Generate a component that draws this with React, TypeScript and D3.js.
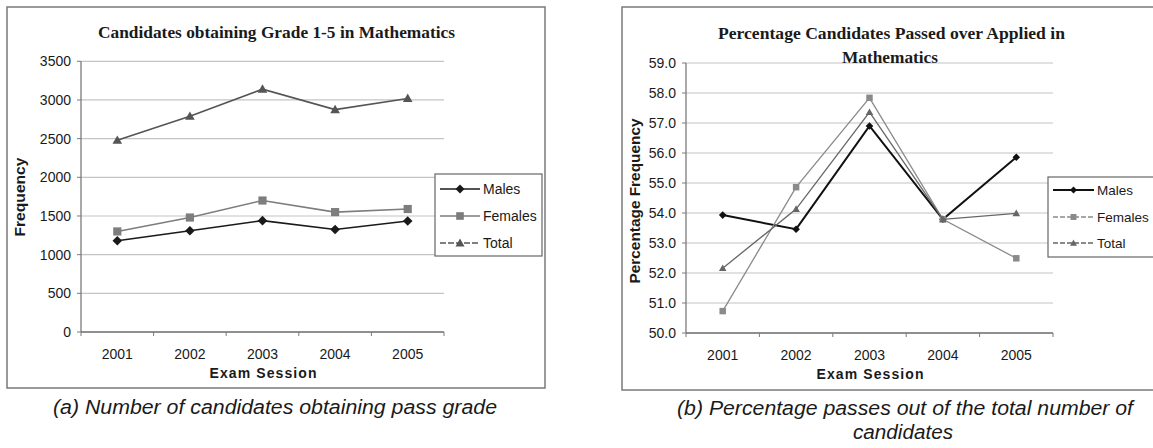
import React from 'react';
import * as d3 from 'd3';

const years = ['2001', '2002', '2003', '2004', '2005'];
const seriesNames = ['Males', 'Females', 'Total'];

const malesCount = [1180, 1310, 1440, 1325, 1435];
const femalesCount = [1300, 1480, 1700, 1550, 1590];
const totalCount = [2480, 2790, 3140, 2875, 3020];
const countTicks = [0, 500, 1000, 1500, 2000, 2500, 3000, 3500];

const malesPct = [53.93, 53.46, 56.9, 53.79, 55.86];
const femalesPct = [50.73, 54.86, 57.84, 53.79, 52.49];
const totalPct = [52.16, 54.13, 57.36, 53.79, 53.99];
const pctTicks = [50, 51, 52, 53, 54, 55, 56, 57, 58, 59];

const SANS = 'Liberation Sans, Arial, sans-serif';
const SERIF = 'Liberation Serif, Times New Roman, serif';

type Shape = 'diamond' | 'square' | 'triangle';

function Marker({ shape, x, y, r, fill }: { shape: Shape; x: number; y: number; r: number; fill: string }) {
  if (shape === 'diamond') {
    return <path d={`M${x},${y - r}L${x + r},${y}L${x},${y + r}L${x - r},${y}Z`} fill={fill} />;
  }
  if (shape === 'square') {
    return <rect x={x - r * 0.85} y={y - r * 0.85} width={r * 1.7} height={r * 1.7} fill={fill} />;
  }
  return <path d={`M${x},${y - r}L${x + r},${y + r * 0.75}L${x - r},${y + r * 0.75}Z`} fill={fill} />;
}

type Series = { name: string; values: number[]; color: string; width: number; shape: Shape; legendDash?: string };

function LineChart(props: {
  x0: number; x1: number; y0: number; y1: number;
  domain: [number, number]; ticks: number[]; tickFmt: (v: number) => string;
  series: Series[]; markerR: number;
}) {
  const { x0, x1, y0, y1, domain, ticks, tickFmt, series, markerR } = props;
  const x = d3.scaleBand<string>().domain(years).range([x0, x1]);
  const y = d3.scaleLinear().domain(domain).range([y0, y1]);
  const cx = (d: string) => (x(d) as number) + x.bandwidth() / 2;
  const line = d3.line<number>().x((_, i) => cx(years[i])).y((v) => y(v));
  const bounds = [...years.map((d) => x(d) as number), x1];
  return (
    <g>
      {ticks.slice(1).map((t) => (
        <line key={'g' + t} x1={x0} x2={x1} y1={y(t)} y2={y(t)} stroke="#c4c4c4" strokeWidth={1.2} />
      ))}
      <line x1={x0} x2={x0} y1={y0} y2={y1} stroke="#7a7a7a" strokeWidth={1.3} />
      <line x1={x0} x2={x1} y1={y0} y2={y0} stroke="#6a6a6a" strokeWidth={1.6} />
      {ticks.map((t) => (
        <g key={'t' + t}>
          <line x1={x0 - 4} x2={x0} y1={y(t)} y2={y(t)} stroke="#7a7a7a" />
          <text x={x0 - 10} y={y(t)} dy="0.36em" textAnchor="end" fontFamily={SANS} fontSize={14} fill="#1a1a1a">
            {tickFmt(t)}
          </text>
        </g>
      ))}
      {bounds.map((b, i) => (
        <line key={'b' + i} x1={b} x2={b} y1={y0} y2={y0 + 4} stroke="#7a7a7a" />
      ))}
      {years.map((d) => (
        <text key={'x' + d} x={cx(d)} y={y0 + 22} dy="0.36em" textAnchor="middle" fontFamily={SANS} fontSize={14} fill="#1a1a1a">
          {d}
        </text>
      ))}
      {series.map((s) => (
        <g key={s.name}>
          <path d={line(s.values) || ''} fill="none" stroke={s.color} strokeWidth={s.width} />
          {s.values.map((v, i) => (
            <Marker key={i} shape={s.shape} x={cx(years[i])} y={y(v)} r={markerR} fill={s.color} />
          ))}
        </g>
      ))}
    </g>
  );
}

function Legend({ x, y, w, h, rowY, series, fontSize, lineLen, markerR }: {
  x: number; y: number; w: number; h: number; rowY: number[]; series: Series[]; fontSize: number; lineLen: number; markerR: number;
}) {
  return (
    <g>
      <rect x={x} y={y} width={w} height={h} fill="#fff" stroke="#666" strokeWidth={1.2} />
      {series.map((s, i) => (
        <g key={s.name}>
          <line x1={x + 5} x2={x + 5 + lineLen} y1={rowY[i]} y2={rowY[i]} stroke={s.color} strokeWidth={s.width} strokeDasharray={s.legendDash} />
          <Marker shape={s.shape} x={x + 5 + lineLen / 2} y={rowY[i]} r={markerR} fill={s.color} />
          <text x={x + 8 + lineLen} y={rowY[i]} dy="0.36em" fontFamily={SANS} fontSize={fontSize} fill="#1a1a1a">
            {s.name}
          </text>
        </g>
      ))}
    </g>
  );
}

export default function App() {
  const leftSeries: Series[] = [
    { name: seriesNames[0], values: malesCount, color: '#1a1a1a', width: 1.6, shape: 'diamond' },
    { name: seriesNames[1], values: femalesCount, color: '#7d7d7d', width: 1.6, shape: 'square' },
    { name: seriesNames[2], values: totalCount, color: '#555555', width: 1.6, shape: 'triangle', legendDash: '6 2' },
  ];
  const rightSeries: Series[] = [
    { name: seriesNames[0], values: malesPct, color: '#111111', width: 2, shape: 'diamond' },
    { name: seriesNames[1], values: femalesPct, color: '#8a8a8a', width: 1.3, shape: 'square', legendDash: '5 2' },
    { name: seriesNames[2], values: totalPct, color: '#666666', width: 1.3, shape: 'triangle', legendDash: '5 2' },
  ];
  return (
    <svg width={1153} height={448} style={{ position: 'absolute', left: 0, top: 0, background: '#fff' }}>
      {/* Left chart frame */}
      <rect x={7} y={7} width={538} height={381} fill="#fff" stroke="#7a7a7a" strokeWidth={1.5} />
      <text x={276.5} y={32} dy="0.36em" textAnchor="middle" fontFamily={SERIF} fontWeight="bold" fontSize={16.5} fill="#1a1a1a" textLength={357} lengthAdjust="spacingAndGlyphs">
        Candidates obtaining Grade 1-5 in Mathematics
      </text>
      <LineChart x0={81} x1={444} y0={332} y1={61.3} domain={[0, 3500]} ticks={countTicks} tickFmt={(v) => String(v)} series={leftSeries} markerR={4.8} />
      <text transform="translate(20,197) rotate(-90)" dy="0.36em" textAnchor="middle" fontFamily={SANS} fontWeight="bold" fontSize={14} fill="#1a1a1a" textLength={79} lengthAdjust="spacingAndGlyphs">
        Frequency
      </text>
      <text x={263} y={373} dy="0.36em" textAnchor="middle" fontFamily={SANS} fontWeight="bold" fontSize={14} fill="#1a1a1a" textLength={107} lengthAdjust="spacing">
        Exam Session
      </text>
      <Legend x={435} y={174} w={107} h={82} rowY={[189, 216, 243]} series={leftSeries} fontSize={14} lineLen={40} markerR={4.5} />
      <text x={275} y={407} dy="0.36em" textAnchor="middle" fontFamily={SANS} fontStyle="italic" fontSize={20} fill="#1a1a1a" textLength={444} lengthAdjust="spacingAndGlyphs">
        (a)  Number of candidates obtaining pass grade
      </text>

      {/* Right chart frame */}
      <rect x={622} y={7} width={540} height={383} fill="#fff" stroke="#7a7a7a" strokeWidth={1.5} />
      <LineChart x0={686} x1={1053} y0={333} y1={63} domain={[50, 59]} ticks={pctTicks} tickFmt={d3.format('.1f')} series={rightSeries} markerR={3.8} />
      <rect x={838} y={47} width={104} height={15} fill="#fff" />
      <text x={891.5} y={33} dy="0.36em" textAnchor="middle" fontFamily={SERIF} fontWeight="bold" fontSize={16.5} fill="#1a1a1a" textLength={347} lengthAdjust="spacingAndGlyphs">
        Percentage Candidates Passed over Applied in
      </text>
      <text x={890} y={57} dy="0.36em" textAnchor="middle" fontFamily={SERIF} fontWeight="bold" fontSize={16.5} fill="#1a1a1a" textLength={96} lengthAdjust="spacingAndGlyphs">
        Mathematics
      </text>
      <text transform="translate(635,201) rotate(-90)" dy="0.36em" textAnchor="middle" fontFamily={SANS} fontWeight="bold" fontSize={14} fill="#1a1a1a" textLength={165} lengthAdjust="spacingAndGlyphs">
        Percentage Frequency
      </text>
      <text x={870} y={374} dy="0.36em" textAnchor="middle" fontFamily={SANS} fontWeight="bold" fontSize={14} fill="#1a1a1a" textLength={107} lengthAdjust="spacing">
        Exam Session
      </text>
      <Legend x={1048} y={177} w={110} h={80} rowY={[190, 217, 243]} series={rightSeries} fontSize={13.5} lineLen={41} markerR={3.5} />
      <text x={905} y={408} dy="0.36em" textAnchor="middle" fontFamily={SANS} fontStyle="italic" fontSize={20} fill="#1a1a1a" textLength={456} lengthAdjust="spacingAndGlyphs">
        (b)  Percentage passes out of the total number of
      </text>
      <text x={903} y={432} dy="0.36em" textAnchor="middle" fontFamily={SANS} fontStyle="italic" fontSize={20} fill="#1a1a1a" textLength={100} lengthAdjust="spacingAndGlyphs">
        candidates
      </text>
    </svg>
  );
}
